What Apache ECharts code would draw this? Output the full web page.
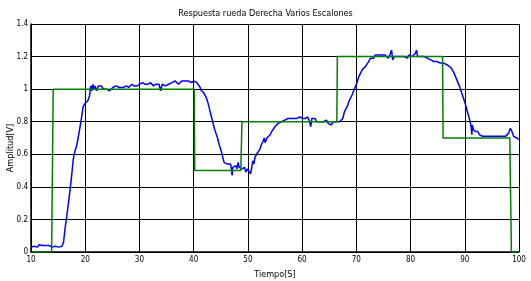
<!DOCTYPE html>
<html>
<head>
<meta charset="utf-8">
<script src="https://cdn.jsdelivr.net/npm/echarts@6/dist/echarts.min.js"></script>
<style>
html, body { margin: 0; padding: 0; background: #fff; }
#main { width: 531px; height: 281px; }
</style>
</head>
<body>
<div id="main"></div>
<script>
// respuesta medida (azul)
var tiempo = [10,10.3,10.6,10.9,11.2,11.5,11.8,12.1,12.4,12.7,13,13.3,13.6,13.9,14.2,14.5,14.8,15.1,15.4,15.7,
  16,16.3,16.6,16.9,17.2,17.5,17.8,18.1,18.4,18.7,19,19.3,19.6,19.9,20.2,20.5,20.8,21,21.2,21.4,21.6,21.8,
  22.1,22.4,22.7,23,23.3,23.6,23.9,24.2,24.5,24.8,25.1,25.4,25.7,26,26.3,26.6,27,27.3,27.6,28,28.3,28.6,
  29,29.3,29.6,30,30.3,30.6,31,31.3,31.6,32,32.3,32.6,33,33.3,33.6,33.9,34.2,34.5,34.8,35.1,35.4,35.7,
  36,36.3,36.6,36.9,37.2,37.5,37.8,38.1,38.4,38.7,39,39.3,39.6,40,40.3,40.6,40.9,41.2,41.4,41.6,41.8,
  42,42.3,42.6,42.9,43.2,43.5,43.8,44.1,44.4,44.7,45,45.3,45.6,45.9,46.2,46.5,46.8,47,47.1,47.2,47.5,
  47.8,48,48.2,48.4,48.6,48.9,49.2,49.4,49.6,49.9,50.2,50.5,50.7,50.9,51.1,51.3,51.6,51.9,52.2,52.5,
  52.8,53,53.2,53.5,53.8,54.1,54.4,54.7,55,55.3,55.6,55.9,56.2,56.5,56.8,57.1,57.4,57.7,58,58.3,58.6,
  59,59.3,59.6,60,60.3,60.6,61,61.3,61.6,61.8,62.1,62.4,62.7,63,63.3,63.6,63.9,64.2,64.5,64.8,65.1,
  65.4,65.7,66,66.3,66.6,66.9,67.2,67.5,67.8,68.1,68.4,68.7,69,69.3,69.6,69.9,70.2,70.5,70.8,71.1,
  71.4,71.7,72,72.3,72.6,72.9,73.2,73.5,73.8,74.1,74.4,74.7,75,75.3,75.6,75.9,76.2,76.5,76.7,77,77.3,
  77.6,77.9,78.2,78.5,78.8,79.1,79.4,79.7,80,80.3,80.6,80.9,81.1,81.3,81.6,81.9,82.2,82.5,82.8,83.1,
  83.4,83.7,84,84.3,84.6,84.9,85.2,85.5,85.8,86.1,86.4,86.7,87,87.5,88,88.5,89,89.5,90,90.5,91,91.2,
  91.3,91.4,91.6,92,92.4,92.7,93,93.3,93.6,93.9,94.2,94.5,94.8,95.1,95.4,95.7,96,96.3,96.6,96.9,97.2,
  97.5,97.8,98.1,98.4,98.7,99,99.3,99.6,100];
var respuesta = [0.03,0.04,0.035,0.04,0.03,0.045,0.035,0.04,0.05,0.04,0.035,0.04,0.035,0.03,0.04,0.035,0.045,0.03,0.04,0.035,
  0.06,0.15,0.22,0.3,0.38,0.47,0.57,0.62,0.65,0.7,0.76,0.82,0.89,0.91,0.92,0.93,0.96,1.02,0.99,1.03,1.0,1.02,
  0.99,1.02,1.01,1.02,1.0,1.01,1.0,1.01,0.99,1.0,1.01,1.0,1.02,1.02,1.01,1.02,1.01,1.02,1.02,1.01,1.02,1.03,
  1.02,1.03,1.02,1.03,1.03,1.04,1.03,1.04,1.03,1.04,1.03,1.02,1.03,1.02,1.03,0.99,1.03,1.03,1.02,1.03,1.03,1.02,
  1.04,1.03,1.05,1.04,1.03,1.04,1.05,1.04,1.05,1.06,1.05,1.05,1.04,1.05,1.05,1.04,1.03,1.01,0.99,1.0,0.98,
  0.97,0.95,0.92,0.88,0.84,0.8,0.76,0.73,0.7,0.66,0.63,0.59,0.55,0.54,0.54,0.53,0.54,0.5,0.47,0.52,0.52,
  0.53,0.51,0.55,0.52,0.53,0.51,0.5,0.52,0.49,0.51,0.5,0.48,0.52,0.56,0.54,0.58,0.6,0.61,0.63,0.66,
  0.68,0.7,0.67,0.7,0.71,0.72,0.74,0.75,0.77,0.76,0.79,0.78,0.8,0.8,0.81,0.8,0.82,0.81,0.82,0.81,0.82,
  0.82,0.81,0.83,0.82,0.81,0.82,0.83,0.81,0.77,0.82,0.81,0.82,0.8,0.81,0.8,0.79,0.8,0.79,0.81,0.79,0.8,
  0.78,0.8,0.79,0.8,0.79,0.8,0.79,0.82,0.86,0.88,0.9,0.93,0.95,0.97,1.0,1.02,1.05,1.08,1.1,1.12,
  1.11,1.14,1.15,1.17,1.19,1.2,1.19,1.21,1.2,1.21,1.22,1.21,1.22,1.21,1.2,1.19,1.21,1.24,1.18,1.2,1.19,
  1.2,1.19,1.2,1.21,1.2,1.2,1.19,1.21,1.2,1.2,1.21,1.22,1.24,1.2,1.21,1.2,1.21,1.2,1.21,1.19,
  1.2,1.18,1.17,1.17,1.18,1.17,1.17,1.16,1.17,1.16,1.16,1.15,1.15,1.13,1.1,1.06,1.02,0.97,0.92,0.86,0.8,0.76,
  0.72,0.78,0.75,0.74,0.74,0.72,0.72,0.71,0.72,0.71,0.72,0.71,0.72,0.71,0.72,0.71,0.72,0.71,0.7,0.71,0.7,
  0.71,0.72,0.73,0.76,0.74,0.71,0.72,0.7,0.69];

// referencia escalones (verde)
var tiempoRef = [10,13.8,14.1,40.1,40.2,48.7,48.9,66.4,66.5,85.9,86.0,98.3,98.6,100];
var referencia = [0,0,1,1,0.5,0.5,0.8,0.8,1.2,1.2,0.7,0.7,0,0];

var xTicks = [10,20,30,40,50,60,70,80,90,100];
var yTicks = [0,0.2,0.4,0.6,0.8,1,1.2,1.4];

function pares(xs, ys) {
  var out = [];
  for (var i = 0; i < xs.length; i++) out.push([xs[i], ys[i]]);
  return out;
}

var fuente = "'DejaVu Sans Condensed', 'Liberation Sans', Arial, sans-serif";

var myChart = echarts.init(document.getElementById('main'));
myChart.setOption({
  animation: false,
  backgroundColor: '#fff',
  title: {
    text: 'Respuesta rueda Derecha Varios Escalones',
    left: 'center',
    top: 4,
    textStyle: { fontFamily: fuente, fontSize: 9, fontWeight: 'normal', color: '#000' }
  },
  grid: { left: 31, right: 12, top: 24, bottom: 29, outerBoundsMode: 'none', containLabel: false },
  xAxis: {
    type: 'value',
    min: xTicks[0],
    max: xTicks[xTicks.length - 1],
    interval: 10,
    name: 'Tiempo[S]',
    nameLocation: 'middle',
    nameGap: 18,
    nameMoveOverlap: false,
    nameTextStyle: { fontFamily: fuente, fontSize: 9, color: '#000' },
    axisLine: { lineStyle: { color: '#000', width: 1.5 } },
    axisTick: { inside: true, length: 3, lineStyle: { color: '#000' } },
    axisLabel: { fontFamily: fuente, fontSize: 8, color: '#000', margin: 4 },
    splitLine: { show: true, lineStyle: { color: '#000', width: 1 } }
  },
  yAxis: {
    type: 'value',
    min: yTicks[0],
    max: yTicks[yTicks.length - 1],
    interval: 0.2,
    name: 'Amplitud[V]',
    nameLocation: 'middle',
    nameGap: 16,
    nameMoveOverlap: false,
    nameTextStyle: { fontFamily: fuente, fontSize: 9, color: '#000', padding: [0, 20, 0, 0] },
    axisLine: { lineStyle: { color: '#000', width: 1.5 } },
    axisTick: { inside: true, length: 3, lineStyle: { color: '#000' } },
    axisLabel: { fontFamily: fuente, fontSize: 8, color: '#000', margin: 3 },
    splitLine: { show: true, lineStyle: { color: '#000', width: 1 } }
  },
  series: [
    {
      type: 'line',
      data: pares(tiempo, respuesta),
      showSymbol: false,
      lineStyle: { color: '#0000ff', width: 1.5 },
      z: 2
    },
    {
      type: 'line',
      data: pares(tiempoRef, referencia),
      showSymbol: false,
      lineStyle: { color: '#008000', width: 1.5 },
      z: 3
    }
  ]
});
</script>
</body>
</html>
